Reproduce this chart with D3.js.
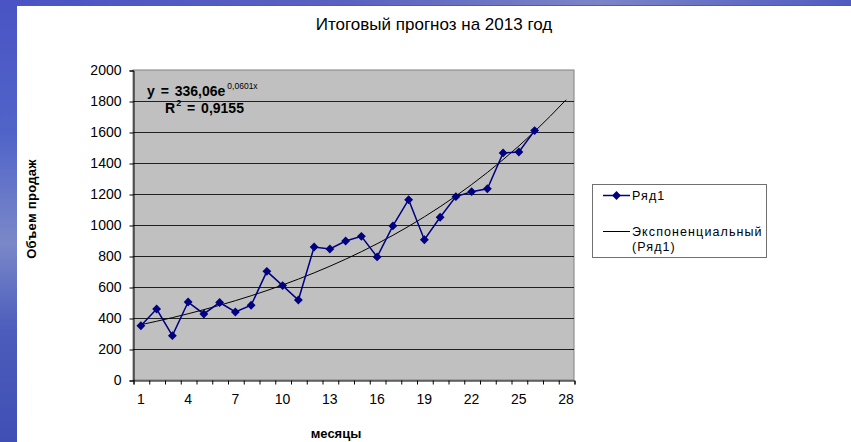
<!DOCTYPE html>
<html>
<head>
<meta charset="utf-8">
<script src="https://cdn.jsdelivr.net/npm/d3@7/dist/d3.min.js"></script>
<style>
  html, body { margin: 0; padding: 0; background: #ffffff; }
  svg { display: block; }
  text { font-family: "Liberation Sans", Arial, sans-serif; fill: #000; }
</style>
</head>
<body>
<svg id="chart" width="851" height="442"></svg>
<script>
// Monthly sales volumes (months 1..26)
const months = d3.range(1, 29);           // category axis 1..28
const sales = [350, 458, 286, 503, 426, 500, 439, 482, 701, 609, 516, 858, 845,
               897, 927, 794, 994, 1163, 905, 1050, 1183, 1215, 1234, 1465, 1471, 1609];
const yTicks = [0, 200, 400, 600, 800, 1000, 1200, 1400, 1600, 1800, 2000];
const xTickLabels = [1, 4, 7, 10, 13, 16, 19, 22, 25, 28];

// Exponential trendline y = a * e^(b x), as stated on the chart
const trendA = 336.06;
const trendB = 0.0601;
const seriesName = "Ряд1";
const trendName = ["Экспоненциальный", "(Ряд1)"];

const svg = d3.select("#chart");

// Slide background: blue strips on the left and top
const defs = svg.append("defs");
const gLeft = defs.append("linearGradient").attr("id", "bgLeft")
  .attr("x1", 0).attr("y1", 0).attr("x2", 0).attr("y2", 1);
[["0%", "#4a54c4"], ["30%", "#5064c8"], ["55%", "#7a88c8"], ["75%", "#4b5cbc"], ["100%", "#3f4fb4"]]
  .forEach(([o, c]) => gLeft.append("stop").attr("offset", o).attr("stop-color", c));
const gTop = defs.append("linearGradient").attr("id", "bgTop")
  .attr("x1", 0).attr("y1", 0).attr("x2", 1).attr("y2", 0);
[["0%", "#4a54c4"], ["40%", "#5a62c0"], ["70%", "#7c84c8"], ["100%", "#4e5cc0"]]
  .forEach(([o, c]) => gTop.append("stop").attr("offset", o).attr("stop-color", c));

svg.append("rect").attr("x", 0).attr("y", 0).attr("width", 851).attr("height", 442).attr("fill", "url(#bgLeft)");
svg.append("rect").attr("x", 17).attr("y", 0).attr("width", 834).attr("height", 5).attr("fill", "url(#bgTop)");
svg.append("rect").attr("x", 17).attr("y", 5).attr("width", 834).attr("height", 437)
  .attr("fill", "#ffffff");
svg.append("line").attr("x1", 17).attr("x2", 851).attr("y1", 5.5).attr("y2", 5.5)
  .attr("stroke", "#606060").attr("stroke-width", 1);

// Plot area
const plot = { left: 133, right: 574, top: 70, bottom: 380 };

const x = d3.scaleBand().domain(months).range([plot.left, plot.right]).paddingInner(0).paddingOuter(0);
const xc = d => x(d) + x.bandwidth() / 2;
const y = d3.scaleLinear().domain([0, 2000]).range([plot.bottom, plot.top]);

svg.append("rect")
  .attr("x", plot.left).attr("y", plot.top)
  .attr("width", plot.right - plot.left).attr("height", plot.bottom - plot.top)
  .attr("fill", "#c0c0c0").attr("stroke", "#808080").attr("stroke-width", 1);

// Horizontal gridlines
svg.append("g").selectAll("line").data(yTicks.filter(v => v > 0 && v < 2000)).join("line")
  .attr("x1", plot.left).attr("x2", plot.right)
  .attr("y1", d => Math.round(y(d)) + 0.5).attr("y2", d => Math.round(y(d)) + 0.5)
  .attr("stroke", "#202020").attr("stroke-width", 1);

// Y axis
const yAxis = d3.axisLeft(y).tickValues(yTicks).tickSize(4).tickPadding(8).tickFormat(d3.format("d"));
const gy = svg.append("g").attr("transform", `translate(${plot.left + 0.5},0.5)`).call(yAxis);
gy.select(".domain").attr("stroke", "#000");
gy.selectAll(".tick line").attr("stroke", "#000");
gy.selectAll(".tick text").attr("font-size", "14px").attr("font-family", "Liberation Sans, Arial, sans-serif").attr("fill", "#000");

// X axis: ticks on category boundaries, labels every 3rd month
const xBound = d3.scaleLinear().domain([0, months.length]).range([plot.left, plot.right]);
const xAxis = d3.axisBottom(xBound).tickValues(d3.range(0, months.length + 1)).tickSize(4).tickFormat("");
const gx = svg.append("g").attr("transform", `translate(0.5,${plot.bottom + 0.5})`).call(xAxis);
gx.select(".domain").attr("stroke", "#000");
gx.selectAll(".tick line").attr("stroke", "#000");

svg.append("g").selectAll("text").data(xTickLabels).join("text")
  .attr("x", d => xc(d)).attr("y", 404)
  .attr("text-anchor", "middle").attr("font-size", "14px")
  .text(d => d);

// Trendline
const trend = months.map(m => ({ m, v: trendA * Math.exp(trendB * m) }));
svg.append("path").datum(trend)
  .attr("d", d3.line().x(d => xc(d.m)).y(d => y(d.v)))
  .attr("fill", "none").attr("stroke", "#000").attr("stroke-width", 1);

// Sales series
const pts = sales.map((v, i) => ({ m: months[i], v }));
svg.append("path").datum(pts)
  .attr("d", d3.line().x(d => xc(d.m)).y(d => y(d.v)))
  .attr("fill", "none").attr("stroke", "#000080").attr("stroke-width", 1.5);
const diamond = d3.symbol().type(d3.symbolDiamond2).size(50);
svg.append("g").selectAll("path").data(pts).join("path")
  .attr("transform", d => `translate(${xc(d.m)},${y(d.v)})`)
  .attr("d", diamond).attr("fill", "#000080");

// Trendline equation
const eq = svg.append("text").attr("x", 147).attr("y", 96).attr("font-size", "14px")
  .attr("font-weight", "bold").attr("word-spacing", "2px");
eq.append("tspan").text("y = 336,06e");
eq.append("tspan").attr("dx", 2).attr("dy", -7).attr("font-size", "8.5px").attr("font-weight", "normal").text("0,0601x");
const r2 = svg.append("text").attr("x", 165).attr("y", 113).attr("font-size", "14px")
  .attr("font-weight", "bold").attr("word-spacing", "2px");
r2.append("tspan").text("R");
r2.append("tspan").attr("dx", 1).attr("dy", -7).attr("font-size", "9px").text("2");
r2.append("tspan").attr("dy", 7).text(" = 0,9155");

// Title and axis titles
svg.append("text").attr("x", 434).attr("y", 30).attr("text-anchor", "middle")
  .attr("font-size", "17px").text("Итоговый прогноз на 2013 год");
svg.append("text").attr("transform", "translate(36,209) rotate(-90)").attr("text-anchor", "middle")
  .attr("font-size", "13px").attr("font-weight", "bold").attr("letter-spacing", "0.3px").text("Объем продаж");
svg.append("text").attr("x", 336).attr("y", 438).attr("text-anchor", "middle")
  .attr("font-size", "13px").attr("font-weight", "bold").text("месяцы");

// Legend
const lg = svg.append("g");
lg.append("rect").attr("x", 592.5).attr("y", 184.5).attr("width", 174).attr("height", 73)
  .attr("fill", "#fff").attr("stroke", "#707070");
lg.append("line").attr("x1", 603).attr("x2", 630).attr("y1", 195.5).attr("y2", 195.5)
  .attr("stroke", "#000080").attr("stroke-width", 1.5);
lg.append("path").attr("transform", "translate(616.5,195.5)").attr("d", diamond).attr("fill", "#000080");
const legendText = (yy, t) => lg.append("text").attr("x", 632).attr("y", yy)
  .attr("font-size", "12.5px").attr("letter-spacing", "1.1px").text(t);
legendText(200, seriesName);
lg.append("line").attr("x1", 603).attr("x2", 630).attr("y1", 231.5).attr("y2", 231.5)
  .attr("stroke", "#000").attr("stroke-width", 1);
legendText(236, trendName[0]);
legendText(251, trendName[1]);
</script>
</body>
</html>
